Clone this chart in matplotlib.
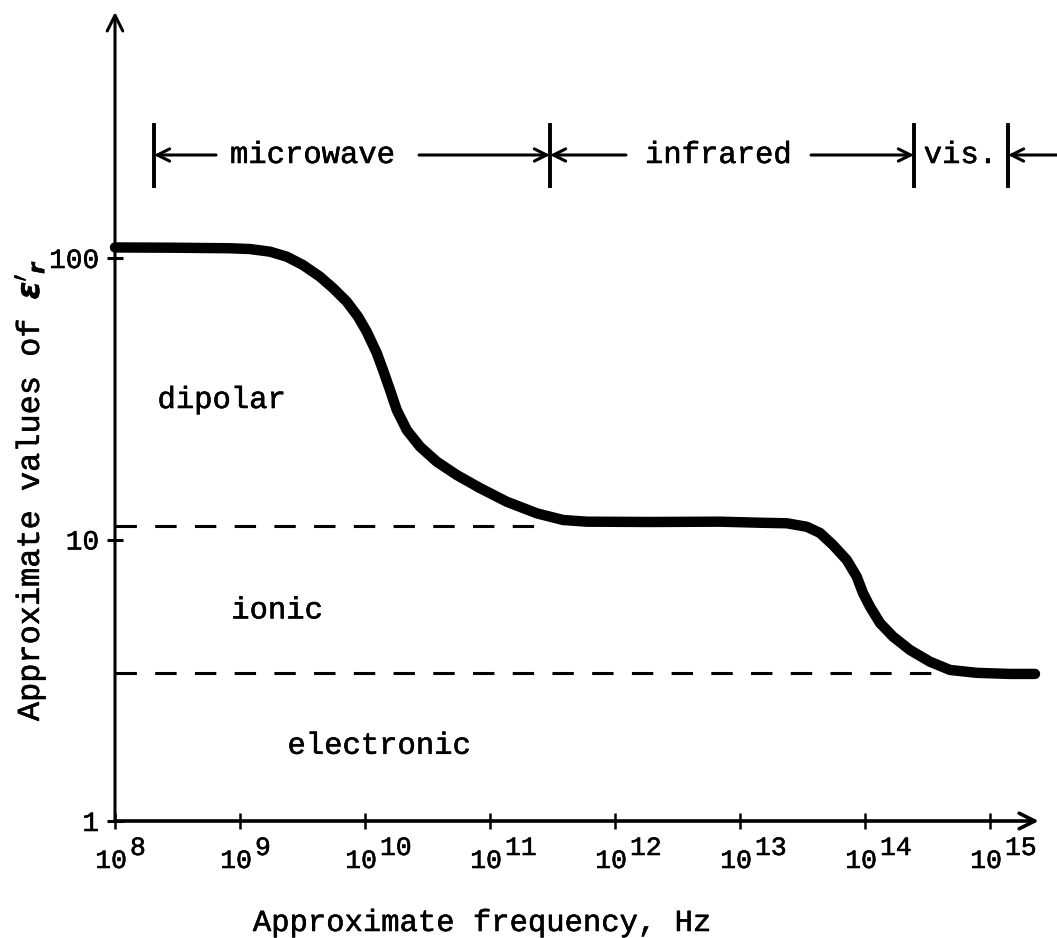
import numpy as np
import matplotlib
matplotlib.use("Agg")
import matplotlib.pyplot as plt
import matplotlib.patheffects as pe

# ---------------- data ----------------
# main curve: log10(frequency in Hz) and relative permittivity
curve_logf = [8.000, 8.440, 8.920, 9.080, 9.240, 9.374, 9.504, 9.640, 9.744, 9.854,
              9.944, 10.014, 10.094, 10.144, 10.200, 10.254, 10.334, 10.440, 10.574,
              10.734, 10.920, 11.134, 11.374, 11.584, 11.774, 12.280, 12.840, 13.160,
              13.374, 13.534, 13.640, 13.744, 13.854, 13.934, 13.984, 14.040, 14.120,
              14.224, 14.360, 14.520, 14.680, 14.894, 15.160, 15.360]
curve_eps = [109.0, 108.8, 108.3, 107.6, 105.3, 101.1, 94.4, 85.8, 78.2, 69.96,
             61.9, 54.7, 45.97, 40.0, 33.97, 28.84, 24.49, 21.37, 18.90,
             16.95, 15.23, 13.62, 12.39, 11.73, 11.57, 11.54, 11.57, 11.47,
             11.42, 11.10, 10.55, 9.56, 8.46, 7.38, 6.45, 5.77, 5.05,
             4.52, 4.05, 3.68, 3.44, 3.36, 3.33, 3.33]

# dashed level lines: (value, log10 end frequency)
level_values = [11.2, 3.35]
level_end_logf = [11.48, 14.56]

# region labels
region_names = ["dipolar", "ionic", "electronic"]
region_logf = [8.34, 8.93, 9.38]
region_eps = [31.3, 5.6, 1.85]

# spectrum bands along the top
band_names = ["microwave", "infrared", "vis."]
band_text_logf = [8.92, 12.24, 14.47]
band_bounds_logf = [8.312, 11.48, 14.392, 15.144]

xtick_exps = [8, 9, 10, 11, 12, 13, 14, 15]
ytick_vals = [1, 10, 100]
ytick_labels = ["1", "10", "100"]

xlabel = "Approximate frequency, Hz"
ylabel = r"Approximate values of $\boldsymbol{\epsilon}'_{\boldsymbol{r}}$"

# ---------------- figure ----------------
FONT = "Liberation Mono"
plt.rcParams["font.family"] = [FONT, "DejaVu Sans"]
plt.rcParams["mathtext.fontset"] = "dejavusans"
thick = [pe.withStroke(linewidth=0.4, foreground="black")]

W, H = 1057, 938
fig = plt.figure(figsize=(W / 100, H / 100), dpi=100)
x0, y0 = 115, 821          # pixel position of (1e8, 1)
px_dec_x, px_dec_y = 125.0, 281.5
ax = fig.add_axes([x0 / W, (H - y0) / H, (W - x0) / W, y0 / H])
ax.set_xscale("log")
ax.set_yscale("log")
ax.set_xlim(1e8, 10 ** (8 + (W - x0) / px_dec_x))
ax.set_ylim(1, 10 ** (y0 / px_dec_y))
for s in ax.spines.values():
    s.set_visible(False)
ax.patch.set_alpha(0)

# ticks
ax.set_xticks([10.0 ** e for e in xtick_exps])
ax.set_xticklabels([])
ax.set_yticks(ytick_vals)
ax.set_yticklabels(ytick_labels)
ax.minorticks_off()
ax.tick_params(axis="x", direction="inout", length=11, width=1.8, color="black")
ax.tick_params(axis="y", direction="inout", length=11, width=2.2, color="black",
               pad=6, labelsize=20)
for lab in ax.get_yticklabels():
    lab.set_fontfamily(FONT)
    lab.set_path_effects(thick)

# axes with arrows
arrow_kw = dict(arrowstyle="->", lw=2.2, color="black", mutation_scale=28,
                shrinkA=0, shrinkB=0)
ax.annotate("", xy=(10 ** 15.39, 1), xytext=(1e8, 1),
            arrowprops=dict(arrow_kw, lw=2.6), annotation_clip=False)
ax.annotate("", xy=(1e8, 10 ** 2.874), xytext=(1e8, 1),
            arrowprops=arrow_kw, annotation_clip=False)

# x tick labels: 10 with superscript exponent
base_y = 10 ** ((y0 - 868) / px_dec_y)
exp_y = 10 ** ((y0 - 855) / px_dec_y)
for e in xtick_exps:
    t1 = ax.text(10 ** (e + 12 / px_dec_x), base_y, "10", ha="right", va="baseline",
                 fontsize=19, clip_on=False)
    t2 = ax.text(10 ** (e + 15 / px_dec_x), exp_y, str(e), ha="left", va="baseline",
                 fontsize=19, clip_on=False)
    t1.set_path_effects(thick)
    t2.set_path_effects(thick)

# main curve
ax.plot([10.0 ** v for v in curve_logf], curve_eps, color="black", lw=7.5,
        solid_capstyle="round", solid_joinstyle="round", clip_on=False, zorder=3)

# dashed lines
for val, end in zip(level_values, level_end_logf):
    ax.plot([1e8, 10 ** end], [val, val], color="black", lw=2.2,
            linestyle=(0, (7, 6)), zorder=2)

# region labels
for name, lx, ev in zip(region_names, region_logf, region_eps):
    t = ax.text(10 ** lx, ev, name, ha="left", va="center", fontsize=22)
    t.set_path_effects(thick)

# bands
band_y = 10 ** ((y0 - 155) / px_dec_y)
bar_lo = 10 ** ((y0 - 186) / px_dec_y)
bar_hi = 10 ** ((y0 - 125) / px_dec_y)
for b in band_bounds_logf:
    ax.plot([10 ** b, 10 ** b], [bar_lo, bar_hi], color="black", lw=2.8,
            clip_on=False)
for name, lx in zip(band_names, band_text_logf):
    t = ax.text(10 ** lx, band_y, name, ha="left", va="center", fontsize=22,
                clip_on=False)
    t.set_path_effects(thick)

band_kw = dict(arrowstyle="->", lw=2.2, color="black", mutation_scale=22,
               shrinkA=0, shrinkB=0)
# (tail, tip) in log10 frequency
band_arrows = [(8.808, 8.312), (10.432, 11.48), (12.088, 11.48),
               (13.568, 14.392), (15.536, 15.144)]
for tail, tip in band_arrows:
    ax.annotate("", xy=(10 ** tip, band_y), xytext=(10 ** tail, band_y),
                arrowprops=band_kw, annotation_clip=False)

# axis labels
tx = fig.text(481 / W, 1 - 923 / H, xlabel, ha="center", va="center", fontsize=22)
ty = fig.text(30 / W, 1 - 490 / H, ylabel, ha="center", va="center", fontsize=23,
              rotation=90)
tx.set_path_effects(thick)
ty.set_path_effects(thick)

fig.savefig("out.png", dpi=100)
